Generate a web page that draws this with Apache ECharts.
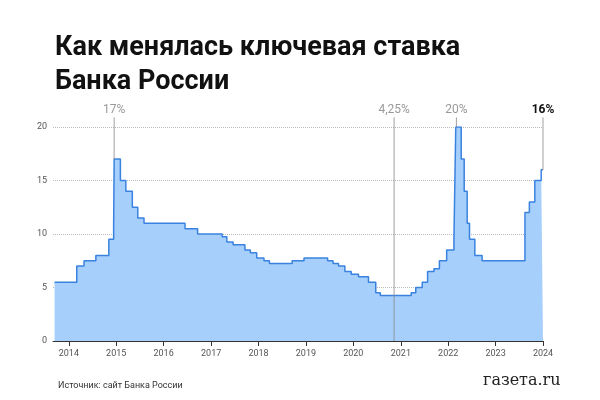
<!DOCTYPE html>
<html><head><meta charset="utf-8">
<script src="https://cdn.jsdelivr.net/npm/echarts@6/dist/echarts.min.js"></script>
<style>body{margin:0}#c{width:600px;height:400px}</style></head>
<body><div id="c"></div>
<script>
const dates=['2013-09-13','2014-03-03','2014-04-28','2014-07-28','2014-11-05','2014-12-12','2014-12-16','2015-02-02','2015-03-16','2015-05-05','2015-06-16','2015-08-03','2016-06-14','2016-09-19','2017-03-27','2017-05-02','2017-06-19','2017-09-18','2017-10-30','2017-12-18','2018-02-12','2018-03-26','2018-09-17','2018-12-17','2019-06-17','2019-07-29','2019-09-09','2019-10-28','2019-12-16','2020-02-10','2020-04-27','2020-06-22','2020-07-27','2021-03-22','2021-04-26','2021-06-15','2021-07-26','2021-09-13','2021-10-25','2021-12-20','2022-02-14','2022-02-28','2022-04-11','2022-05-04','2022-05-27','2022-06-14','2022-07-25','2022-09-19','2023-08-15','2023-09-18','2023-10-30','2023-12-18','2024-01-01'];
const rates=[5.5,7,7.5,8,9.5,10.5,17,15,14,12.5,11.5,11,10.5,10,9.75,9.25,9,8.5,8.25,7.75,7.5,7.25,7.5,7.75,7.5,7.25,7,6.5,6.25,6,5.5,4.5,4.25,4.5,5,5.5,6.5,6.75,7.5,8.5,9.5,20,17,14,11,9.5,8,7.5,12,13,15,16,16];
const notes=[['2014-12-16',17,'17%',false],['2020-11-10',0,'4,25%',false],['2022-03-05',20,'20%',false],['2024-01-01',16,'16%',true]];
const ts=s=>new Date(s+'T00:00:00Z').getTime();
const X0=ts('2013-09-01'),X1=ts('2024-01-01');
const noteSeries=notes.map(n=>({type:'line',symbol:'none',silent:true,z:3,xAxisIndex:1,yAxisIndex:1,
  lineStyle:{color:'#888',width:0.8},
  data:[[ts(n[0]),n[1]],[ts(n[0]),20.9]],
  endLabel:{show:true,formatter:n[2],align:'center',verticalAlign:'bottom',offset:[0,-1],distance:0,
   color:n[3]?'#111':'#999',fontWeight:n[3]?'bold':'normal',fontSize:12,fontFamily:'Roboto'}}));
const chart=echarts.init(document.getElementById('c'));
chart.setOption({
 animation:false,
 title:[{text:'Как менялась ключевая ставка\nБанка России',left:50,top:26,textStyle:{fontFamily:'Roboto',fontWeight:'bold',fontSize:27,lineHeight:34,color:'#111'}},
  {text:'Источник: сайт Банка России',left:53,top:376,textStyle:{fontFamily:'Roboto',fontWeight:'normal',fontSize:9,color:'#333'}},
  {text:'газета.ru',left:478,top:368,textStyle:{fontFamily:'DejaVu Serif',fontWeight:'normal',fontSize:16,color:'#222'}}],
 grid:[{left:53,right:57,top:127,bottom:59},{left:53,right:57,top:100.25,bottom:59}],
 xAxis:[{type:'time',min:X0,max:X1,minInterval:365*86400000,maxInterval:366*86400000,
  axisLine:{lineStyle:{color:'#333'}},axisTick:{show:true,lineStyle:{color:'#333'}},splitLine:{show:false},
  axisLabel:{formatter:'{yyyy}',color:'#555',fontSize:9,fontFamily:'Roboto',showMaxLabel:true}},
  {type:'time',gridIndex:1,min:X0,max:X1,show:false}],
 yAxis:[{type:'value',min:0,max:20,interval:5,axisLine:{show:false},axisTick:{show:false},
  axisLabel:{color:'#555',fontSize:9,fontFamily:'Roboto',margin:6},
  splitLine:{lineStyle:{color:'#bbb',type:'dotted'}}},
  {type:'value',gridIndex:1,min:0,max:22.5,show:false,splitLine:{show:false}}],
 series:[{type:'line',step:'end',symbol:'none',z:2,data:dates.map((d,i)=>[ts(d),rates[i]]),
  lineStyle:{color:'#3a82e0',width:1.5},areaStyle:{color:'#a6cffb',opacity:1}}].concat(noteSeries)
});
</script></body></html>
